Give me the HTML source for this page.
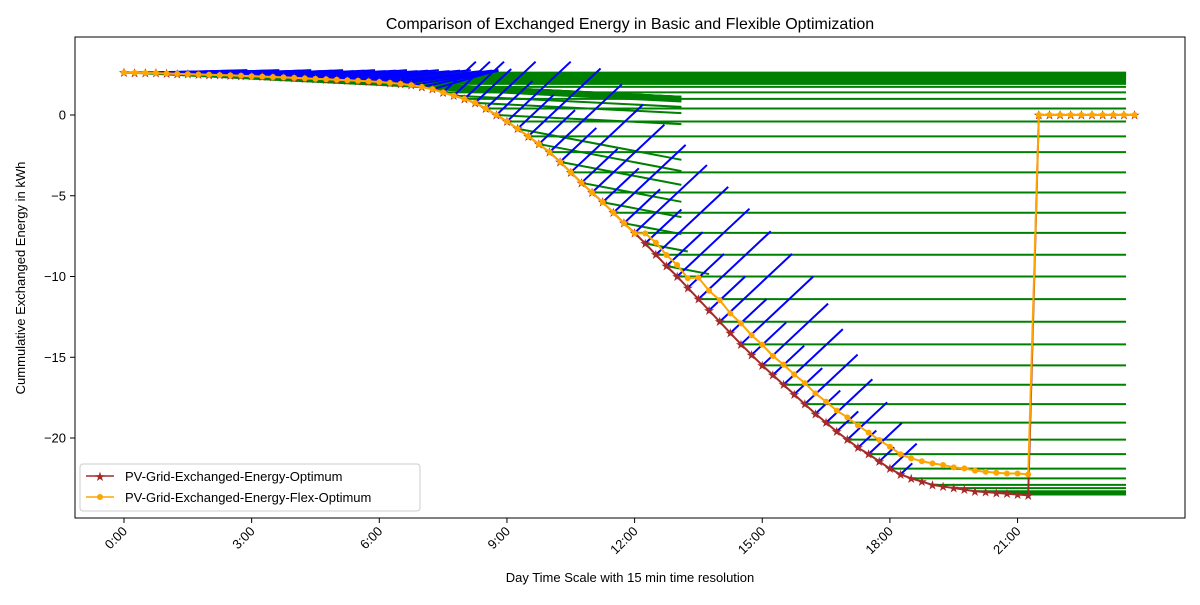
<!DOCTYPE html>
<html><head><meta charset="utf-8"><style>
body{margin:0;background:#fff;}
svg text{font-family:"Liberation Sans","DejaVu Sans",sans-serif;}
</style></head><body>
<svg id="chart" width="1200" height="600" viewBox="0 0 1200 600" xmlns="http://www.w3.org/2000/svg">
<defs><clipPath id="clip"><rect x="75" y="37" width="1110" height="481"/></clipPath></defs>
<rect x="0" y="0" width="1200" height="600" fill="#fff"/>
<text x="630" y="29" font-size="16" text-anchor="middle">Comparison of Exchanged Energy in Basic and Flexible Optimization</text>
<text transform="translate(25,278) rotate(-90)" font-size="13" text-anchor="middle">Cummulative Exchanged Energy in kWh</text>
<text x="630" y="582" font-size="13" text-anchor="middle">Day Time Scale with 15 min time resolution</text>
<g id="plot" clip-path="url(#clip)"></g>
<rect x="75" y="37" width="1110" height="481" fill="none" stroke="#000" stroke-width="1"/>
<g id="ticks"></g>
<g>
<rect x="80" y="464" width="340" height="47" rx="3" fill="#fff" fill-opacity="0.8" stroke="#ccc"/>
<line x1="86" y1="476" x2="114" y2="476" stroke="#a52a2a" stroke-width="1.5"/>
<text x="100" y="481" font-size="13" text-anchor="middle" fill="#a52a2a">★</text>
<text x="125" y="481" font-size="13">PV-Grid-Exchanged-Energy-Optimum</text>
<line x1="86" y1="497" x2="114" y2="497" stroke="#ffa500" stroke-width="1.5"/>
<circle cx="100" cy="497" r="3" fill="#ffa500"/>
<text x="125" y="502" font-size="13">PV-Grid-Exchanged-Energy-Flex-Optimum</text>
</g>
</svg>
<script>
const hourTicks=[0,3,6,9,12,15,18,21];
const tickLabels=["0:00","3:00","6:00","9:00","12:00","15:00","18:00","21:00"];
const yTicks=[0,-5,-10,-15,-20];
const yTickLabels=["0","\u22125","\u221210","\u221215","\u221220"];
const optimum=[2.62,2.61,2.6,2.59,2.57,2.55,2.53,2.51,2.49,2.47,2.45,2.43,2.40,2.38,2.35,2.33,2.30,2.27,2.24,2.21,2.18,2.15,2.12,2.08,2.04,1.99,1.93,1.85,1.74,1.6,1.4,1.2,1.0,0.75,0.4,0.0,
-0.4,-0.85,-1.32,-1.8,-2.3,-2.9,-3.55,-4.2,-4.8,-5.4,-6.05,-6.7,-7.3,-7.95,-8.65,-9.35,-10.0,-10.7,-11.4,-12.1,-12.8,-13.5,-14.2,-14.85,-15.5,-16.1,-16.7,-17.3,-17.9,-18.5,-19.05,-19.6,-20.1,-20.6,-21.0,-21.45,-21.9,-22.25,-22.5,-22.7,-22.9,-23.0,-23.1,-23.2,-23.3,-23.35,-23.4,-23.45,-23.5,-23.55,0,0,0,0,0,0,0,0,0,0];
const flexOptimum=[2.62,2.61,2.6,2.59,2.57,2.55,2.53,2.51,2.49,2.47,2.45,2.43,2.40,2.38,2.35,2.33,2.30,2.27,2.24,2.21,2.18,2.15,2.12,2.08,2.04,1.99,1.93,1.85,1.74,1.6,1.4,1.2,1.0,0.75,0.4,0.0,
-0.4,-0.85,-1.32,-1.8,-2.3,-2.9,-3.55,-4.2,-4.8,-5.4,-6.05,-6.7,-7.33,-7.33,-7.9,-8.67,-9.29,-10.1,-10.07,-10.88,-11.46,-12.28,-12.9,-13.64,-14.22,-14.92,-15.46,-16.06,-16.6,-17.24,-17.75,-18.3,-18.72,-19.22,-19.67,-20.12,-20.54,-21.01,-21.26,-21.44,-21.57,-21.67,-21.82,-21.88,-22.02,-22.09,-22.15,-22.2,-22.2,-22.25,0,0,0,0,0,0,0,0,0,0];
const stepHours=0.25, greenEndHour=23.55, slopeEndHour=13.1, jumpIndex=86;

const X=h=>124+h*42.55, Y=v=>115-v*16.15;
const NS="http://www.w3.org/2000/svg";
const plot=document.getElementById('plot'), ticks=document.getElementById('ticks');
function mk(tag,at,parent){const e=document.createElementNS(NS,tag);for(const k in at)e.setAttribute(k,at[k]);parent.appendChild(e);return e;}
function seg(x1,y1,x2,y2,c,name){const l=mk('line',{x1:x1,y1:y1,x2:x2,y2:y2,stroke:c,'stroke-width':2},plot);

}
// green segments
for(let i=0;i<jumpIndex;i++){const t=i*stepHours,v=optimum[i];
 if(i%2===0){seg(X(t),Y(v),X(greenEndHour),Y(v),'#008000','green-level-line');}
 else if(i<=51){const k=i<36?0.13:0.5;const ex=Math.max(slopeEndHour,t+1);seg(X(t),Y(v),X(ex),Y(v-k*(ex-t)),'#008000','green-slope-line');}
}
// blue segments
for(let i=0;i<jumpIndex;i++){const t=i*stepHours,v=optimum[i];
 let dx,dy;
 if(i<30){dx=Math.min(2.4,8.8-t);dy=(2.72-v)+0.03*(i%3);}
 else if(i<74){const long=(i%2===0);const f=i<58?1:Math.max(0.3,1-(i-58)*0.045);dx=(long?1.7:0.85)*f;dy=(long?4.2:2.1)*f;
  if(v+dy>3.3){const s=(3.3-v)/dy;dx*=s;dy*=s;}}
 else{continue;}
 seg(X(t),Y(v),X(t+dx),Y(v+dy),'#0000ff','blue-segment');}
// series lines
function series(arr,color,name,marker){const pts=arr.map((v,i)=>X(i*stepHours)+','+Y(v)).join(' ');
 const pl=mk('polyline',{points:pts,fill:'none',stroke:color,'stroke-width':2},plot);
 
 
 arr.forEach((v,i)=>{let m;
  if(marker==='star'){m=mk('text',{x:X(i*stepHours),y:Y(v)+4.5,'font-size':13,'text-anchor':'middle',fill:color},plot);m.textContent='★';}
  else{m=mk('circle',{cx:X(i*stepHours),cy:Y(v),r:3,fill:color},plot);}
  
  });}
series(optimum,'#a52a2a','optimum-line','star');
series(flexOptimum,'#ffa500','flex-optimum-line','circle');
// ticks
hourTicks.forEach((h,i)=>{const x=X(h);mk('line',{x1:x,y1:518,x2:x,y2:523,stroke:'#000'},ticks);
 const t=mk('text',{x:x+4,y:532,'font-size':13,'text-anchor':'end',transform:`rotate(-45 ${x+4} 532)`},ticks);t.textContent=tickLabels[i];
 
 });
yTicks.forEach((v,i)=>{const y=Y(v);mk('line',{x1:70,y1:y,x2:75,y2:y,stroke:'#000'},ticks);
 const t=mk('text',{x:66,y:y+4.5,'font-size':13,'text-anchor':'end'},ticks);t.textContent=yTickLabels[i];
 
 });
</script>
</body></html>
